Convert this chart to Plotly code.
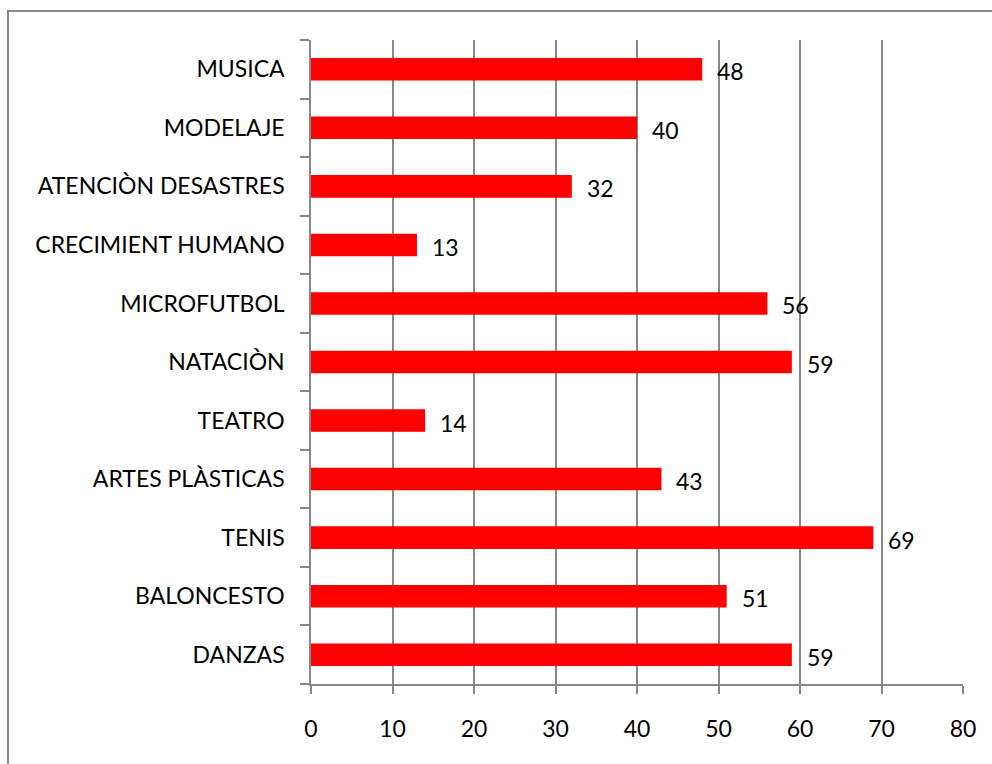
import plotly.graph_objects as go

# Activity names (bottom to top) and participant counts
categories = ["DANZAS", "BALONCESTO", "TENIS", "ARTES PLÀSTICAS", "TEATRO",
              "NATACIÒN", "MICROFUTBOL", "CRECIMIENT HUMANO",
              "ATENCIÒN DESASTRES", "MODELAJE", "MUSICA"]
values = [59, 51, 69, 43, 14, 59, 56, 13, 32, 40, 48]
x_ticks = [0, 10, 20, 30, 40, 50, 60, 70, 80]

W, H = 992, 764
ML, MR, MT, MB = 311, 29, 40, 80
FONT = "Lato"
FS = 23
GRAY = "#878787"

fig = go.Figure(go.Bar(
    x=values, y=categories, orientation="h",
    marker=dict(color="#ff0000", line=dict(width=0)),
    width=0.385, hoverinfo="x+y",
))

# value labels to the right of each bar
for c, v in zip(categories, values):
    fig.add_annotation(x=v, y=c, text=str(v), showarrow=False,
                       xanchor="left", yanchor="middle", xshift=13, yshift=-2,
                       font=dict(family=FONT, size=FS, color="#000"))

# outer chart frame
pw, ph = W - ML - MR, H - MT - MB
fig.add_shape(type="rect", xref="paper", yref="paper",
              x0=(8 - ML) / pw, x1=(W + 20 - ML) / pw,
              y0=-(H + 20 - MT - ph) / ph, y1=(H - 11 - MB) / ph,
              line=dict(color=GRAY, width=2), fillcolor="rgba(0,0,0,0)", layer="below")

fig.update_layout(
    width=W, height=H,
    margin=dict(l=ML, r=MR, t=MT, b=MB, pad=0),
    paper_bgcolor="white", plot_bgcolor="white",
    font=dict(family=FONT, size=FS, color="#000"),
    showlegend=False,
    xaxis=dict(range=[0, 80], tickvals=x_ticks, ticktext=[str(t) for t in x_ticks],
               showgrid=True, gridcolor=GRAY, gridwidth=1.5,
               showline=True, linecolor=GRAY, linewidth=1.5,
               ticks="outside", ticklen=8, tickcolor=GRAY, tickwidth=1.5,
               zeroline=False, fixedrange=True, ticklabelstandoff=16),
    yaxis=dict(categoryorder="array", categoryarray=categories,
               tickson="boundaries", ticks="outside", ticklen=9,
               tickcolor=GRAY, tickwidth=1.5,
               showline=True, linecolor=GRAY, linewidth=1.5,
               showgrid=False, zeroline=False, fixedrange=True,
               ticklabelstandoff=20, range=[-0.5, 10.5]),
)

fig.write_html("out.html")
